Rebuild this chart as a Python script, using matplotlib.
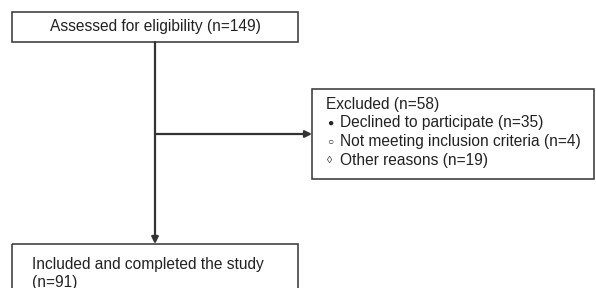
import matplotlib.pyplot as plt
from matplotlib.patches import Rectangle

plt.rcParams['font.family'] = ['Liberation Sans', 'DejaVu Sans']

# Flow chart content
n_assessed = 149
n_excluded = 58
excl_reasons = ["Declined to participate", "Not meeting inclusion criteria", "Other reasons"]
excl_counts = [35, 4, 19]
excl_symbols = ["\u25CF", "\u25CB", "\u25CA"]
n_included = 91

line_col = "#333333"
txt_col = "#222222"
fs = 11.2

fig = plt.figure(figsize=(5.96, 2.88), dpi=100)
ax = fig.add_axes([0, 0, 1, 1])
ax.set_xlim(0, 596)
ax.set_ylim(288, 0)
ax.axis("off")

def box(x0, y0, x1, y1):
    ax.add_patch(Rectangle((x0, y0), x1 - x0, y1 - y0, fill=False,
                           edgecolor=line_col, linewidth=1.1))

# top box
box(12, 12, 298, 42)
ax.text(155, 27, "Assessed for eligibility (n=%d)" % n_assessed, ha="center", va="center",
        fontsize=fs, color=txt_col)

# right box
box(312, 89, 594, 179)
ax.text(326, 105, "Excluded (n=%d)" % n_excluded, va="center", fontsize=fs, color=txt_col)
for i, (s, r, c) in enumerate(zip(excl_symbols, excl_reasons, excl_counts)):
    y = 123 + i * 18.5
    ax.text(327, y, s, va="center", fontsize=7.5, color=txt_col)
    ax.text(340, y, "%s (n=%d)" % (r, c), va="center", fontsize=fs, color=txt_col)

# bottom box
box(12, 244, 298, 300)
ax.text(32, 265, "Included and completed the study", va="center", fontsize=fs, color=txt_col)
ax.text(32, 282, "(n=%d)" % n_included, va="center", fontsize=fs, color=txt_col)

# connectors
arrow = dict(arrowstyle="-|>", color=line_col, lw=1.6, shrinkA=0, shrinkB=0,
             mutation_scale=10)
ax.annotate("", xy=(155, 244), xytext=(155, 42), arrowprops=arrow)
ax.annotate("", xy=(312, 134), xytext=(155, 134), arrowprops=arrow)

fig.savefig("out.png", dpi=100)
